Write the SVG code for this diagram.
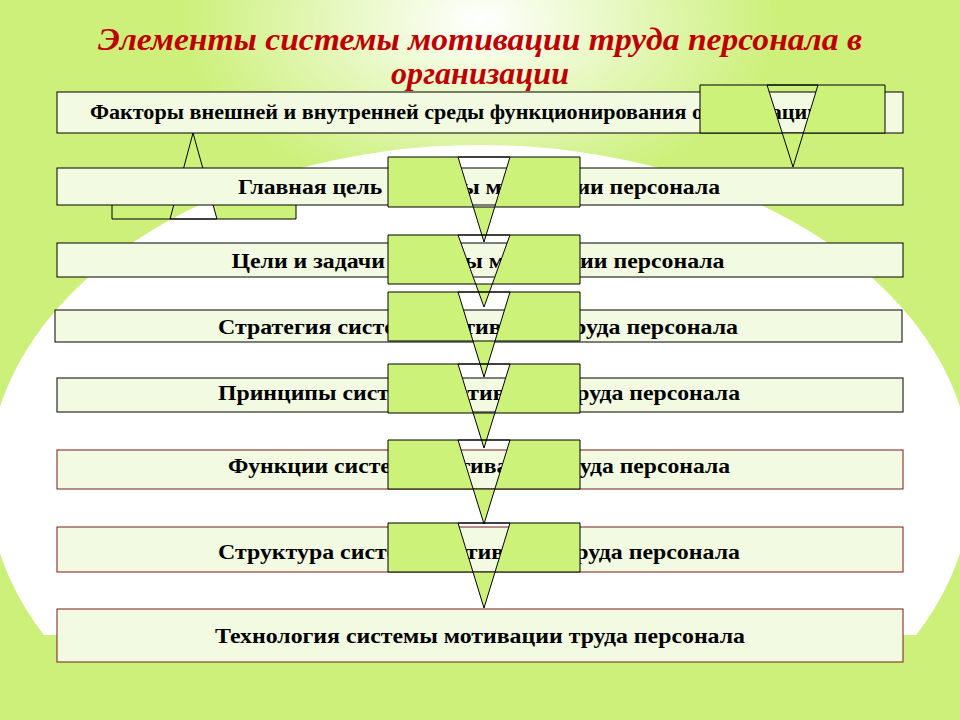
<svg xmlns="http://www.w3.org/2000/svg" width="960" height="720" viewBox="0 0 960 720">
<defs>
<radialGradient id="glow" cx="480" cy="20" r="300" gradientUnits="userSpaceOnUse" gradientTransform="translate(480 20) scale(1 0.6) translate(-480 -20)">
<stop offset="0" stop-color="#ffffff"/><stop offset="1" stop-color="#ffffff" stop-opacity="0"/>
</radialGradient>
<clipPath id="cl"><rect x="0" y="0" width="960" height="635"/></clipPath>
<style>
.box{fill:#f2fbe2;stroke:#000;stroke-width:1}
.boxr{fill:#f2fbe2;stroke:#7a1a1a;stroke-width:1}
.arr{fill:#ccf27a;stroke:#000;stroke-width:1;fill-rule:evenodd}
.t{font-family:"Liberation Serif","Times New Roman","DejaVu Serif",serif;font-weight:bold;font-size:21px;text-anchor:middle;fill:#000}
.title{font-family:"Liberation Serif","Times New Roman","DejaVu Serif",serif;font-weight:bold;font-style:italic;font-size:32px;text-anchor:middle;fill:#c00000}
</style>
</defs>
<rect width="960" height="720" fill="#ccf07a"/>
<rect width="960" height="300" fill="url(#glow)"/>
<ellipse cx="480" cy="480" rx="492" ry="335" fill="#ffffff" clip-path="url(#cl)"/>
<text class="title" x="480" y="50" textLength="764" lengthAdjust="spacingAndGlyphs">Элементы системы мотивации труда персонала в</text>
<text class="title" x="480" y="84" textLength="178" lengthAdjust="spacingAndGlyphs">организации</text>
<g id="n1"><rect class="box" x="57" y="92" width="846" height="41"/><text class="t" x="455" y="119" textLength="730" lengthAdjust="spacingAndGlyphs">Факторы внешней и внутренней среды функционирования организации</text></g>
<g id="connectors">
<path class="arr" d="M112 170H296V219H112Z M170 219L193 133L217 219Z"/>
</g>
<g id="n2"><rect class="box" x="57" y="168" width="846" height="37"/><text class="t" x="479" y="194" textLength="482" lengthAdjust="spacingAndGlyphs">Главная цель системы мотивации персонала</text></g>
<g id="n3"><rect class="box" x="57" y="243" width="846" height="34"/><text class="t" x="478" y="268" textLength="493" lengthAdjust="spacingAndGlyphs">Цели и задачи системы мотивации персонала</text></g>
<g id="n4"><rect class="box" x="55" y="310" width="847" height="32"/><text class="t" x="478" y="334" textLength="520" lengthAdjust="spacingAndGlyphs">Стратегия системы мотивации труда персонала</text></g>
<g id="n5"><rect class="box" x="57" y="378" width="846" height="34"/><text class="t" x="479" y="400" textLength="522" lengthAdjust="spacingAndGlyphs">Принципы системы мотивации труда персонала</text></g>
<g id="n6"><rect class="boxr" x="57" y="450" width="846" height="39"/><text class="t" x="479" y="473" textLength="502" lengthAdjust="spacingAndGlyphs">Функции системы мотивации труда персонала</text></g>
<g id="n7"><rect class="boxr" x="57" y="527" width="846" height="45"/><text class="t" x="479" y="559" textLength="522" lengthAdjust="spacingAndGlyphs">Структура системы мотивации труда персонала</text></g>
<g id="n8"><rect class="boxr" x="57" y="609" width="846" height="53"/><text class="t" x="480" y="643" textLength="530" lengthAdjust="spacingAndGlyphs">Технология системы мотивации труда персонала</text></g>
<g id="connectors-top">
<path class="arr" d="M700 85H885V133H700Z M767 85L818 85L793 167Z"/>
<path class="arr" d="M388 157H580V207H388Z M458 157L510 157L484 242Z"/>
<path class="arr" d="M388 235H580V284H388Z M458 235L510 235L484 307Z"/>
<path class="arr" d="M388 292H580V341H388Z M458 292L510 292L484 377Z"/>
<path class="arr" d="M388 364H580V413H388Z M458 364L510 364L484 448Z"/>
<path class="arr" d="M388 440H580V489H388Z M458 440L510 440L484 524Z"/>
<path class="arr" d="M388 523H580V572H388Z M458 523L510 523L484 608Z"/>
</g>
</svg>
